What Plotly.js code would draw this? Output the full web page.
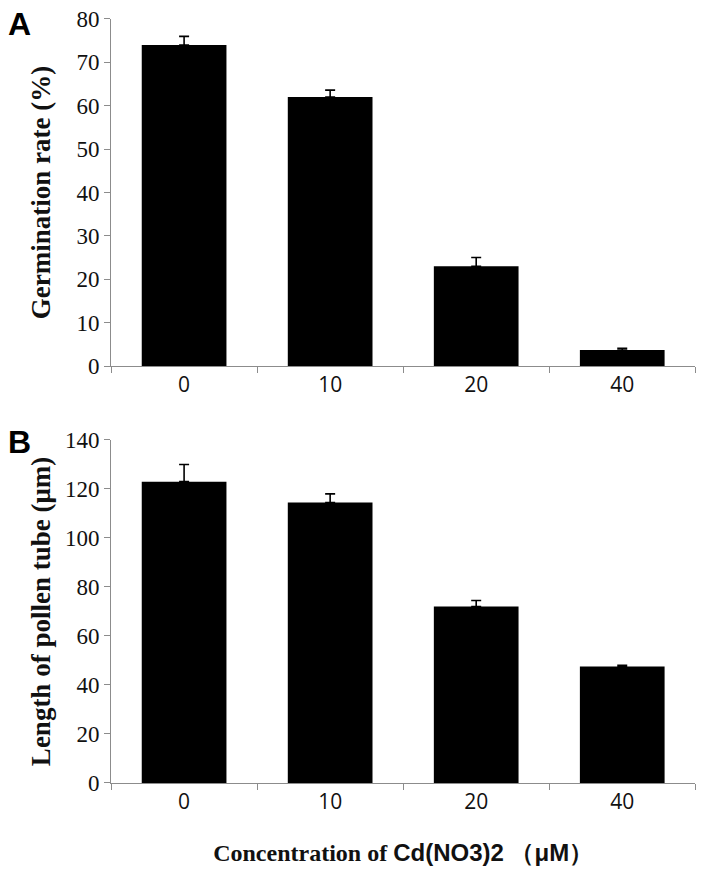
<!DOCTYPE html>
<html>
<head>
<meta charset="utf-8">
<script src="https://cdn.plot.ly/plotly-3.0.1.min.js"></script>
<style>
  html, body { margin: 0; padding: 0; background: #fff; }
  #plot { width: 703px; height: 883px; }
</style>
</head>
<body>
<div id="plot"></div>
<script>
// Cd(NO3)2 concentration (uM)
const concentrations = ['0', '10', '20', '40'];

// panel A: germination rate (%)
const germRate = [74, 62, 23, 3.7];
const germErr = [2, 1.6, 2, 0.4];

// panel B: pollen tube length (um)
const tubeLength = [123, 114.5, 72, 47.5];
const tubeErr = [7, 3.5, 2.5, 0.5];

const serif = '"Liberation Serif", "Times New Roman", serif';
const sans = '"Open Sans", "Liberation Sans", sans-serif';
const axisGrey = '#8c8c8c';

function barTrace (y, err, xa, ya) {
  return {
    type: 'bar',
    x: concentrations,
    y: y,
    xaxis: xa,
    yaxis: ya,
    width: 0.58,
    marker: { color: '#000', line: { color: '#000', width: 0 } },
    error_y: { type: 'data', array: err, symmetric: false, arrayminus: err.map(() => 0),
      color: '#000', thickness: 1.6, width: 5 },
    showlegend: false,
    hoverinfo: 'skip'
  };
}

function xAxis (anchor) {
  return {
    domain: [0.158, 0.989],
    anchor: anchor,
    type: 'category',
    showline: true,
    linecolor: axisGrey,
    linewidth: 1,
    ticks: 'outside',
    tickson: 'boundaries',
    ticklen: 6,
    tickcolor: axisGrey,
    showgrid: false,
    zeroline: false,
    tickfont: { family: sans, size: 21, color: '#111' }
  };
}

function yAxis (domain, range, dtick, anchor, title, standoff) {
  return {
    domain: domain,
    anchor: anchor,
    range: range,
    dtick: dtick,
    showline: true,
    linecolor: axisGrey,
    linewidth: 1,
    ticks: 'outside',
    ticklen: 6,
    tickcolor: axisGrey,
    showgrid: false,
    zeroline: false,
    tickfont: { family: serif, size: 23, color: '#111' },
    title: { text: title, font: { family: serif, size: 27, color: '#111' }, standoff: standoff }
  };
}

const data = [
  barTrace(germRate, germErr, 'x', 'y'),
  barTrace(tubeLength, tubeErr, 'x2', 'y2')
];

const layout = {
  width: 703,
  height: 883,
  margin: { l: 0, r: 0, t: 0, b: 0 },
  paper_bgcolor: '#fff',
  plot_bgcolor: '#fff',
  xaxis: xAxis('y'),
  yaxis: yAxis([0.5855, 0.9785], [0, 80], 10, 'x', '<b>Germination rate (%)</b>', 18),
  xaxis2: Object.assign(xAxis('y2'), {
    title: {
      text: '<b>Concentration of </b><b><span style="font-family:Liberation Sans">Cd(NO3)2 （μM）</span></b>',
      font: { family: serif, size: 24, color: '#111' },
      standoff: 30
    }
  }),
  yaxis2: yAxis([0.1133, 0.5017], [0, 140], 20, 'x2', '<b>Length of pollen tube (μm)</b>', 6),
  annotations: [
    { text: '<b>A</b>', x: 0.008, y: 0.995, xref: 'paper', yref: 'paper', xanchor: 'left', yanchor: 'top',
      showarrow: false, font: { family: '"Liberation Sans", Arial, sans-serif', size: 32, color: '#000' } },
    { text: '<b>B</b>', x: 0.008, y: 0.522, xref: 'paper', yref: 'paper', xanchor: 'left', yanchor: 'top',
      showarrow: false, font: { family: '"Liberation Sans", Arial, sans-serif', size: 32, color: '#000' } }
  ]
};

Plotly.newPlot('plot', data, layout, { displayModeBar: false, staticPlot: true });
</script>
</body>
</html>
